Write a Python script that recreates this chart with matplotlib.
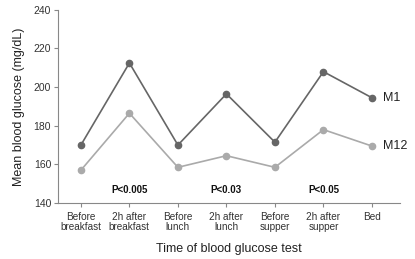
import matplotlib.pyplot as plt
import numpy as np

plt.rcParams['font.family'] = ['Liberation Sans', 'DejaVu Sans']

times = ["Before\nbreakfast", "2h after\nbreakfast", "Before\nlunch", "2h after\nlunch",
         "Before\nsupper", "2h after\nsupper", "Bed"]
m1 = [170, 212.5, 170, 196.5, 171.5, 208, 194.5]
m12 = [157, 186.5, 158.5, 164.5, 158.5, 178, 169.5]
p_labels = ["P<0.005", "P<0.03", "P<0.05"]
p_pos = [1, 3, 5]

fig = plt.figure(figsize=(4.15, 2.59), dpi=100)
ax = fig.add_axes([0.14, 0.216, 0.824, 0.746])

x = np.arange(len(times))
ax.plot(x, m1, color='#666666', lw=1.2, marker='o', ms=4.5)
ax.plot(x, m12, color='#aaaaaa', lw=1.2, marker='o', ms=4.5)
ax.text(x[-1] + 0.22, m1[-1], "M1", fontsize=9, va='center', ha='left', color='#222222')
ax.text(x[-1] + 0.22, m12[-1], "M12", fontsize=9, va='center', ha='left', color='#222222')
for lab, p in zip(p_labels, p_pos):
    ax.text(p, 146.5, lab, fontsize=7, fontweight='bold', ha='center', va='center', color='#111111')

ax.set_xlim(-0.47, 6.58)
ax.set_ylim(140, 240)
ax.set_yticks([140, 160, 180, 200, 220, 240])
ax.set_xticks(x)
ax.set_xticklabels(times, fontsize=7.2, color='#333333', linespacing=1.0)
ax.tick_params(axis='y', labelsize=7.5, pad=2)
ax.tick_params(colors='#888888', length=3, width=0.8)
ax.tick_params(labelcolor='#333333')
for s in ['top', 'right']:
    ax.spines[s].set_visible(False)
for s in ['left', 'bottom']:
    ax.spines[s].set_color('#888888')
    ax.spines[s].set_linewidth(0.8)

ax.set_ylabel("Mean blood glucose (mg/dL)", fontsize=9, color='#222222', labelpad=6)
ax.set_xlabel("Time of blood glucose test", fontsize=9, color='#222222', labelpad=8)

fig.savefig("out.png", dpi=100)
